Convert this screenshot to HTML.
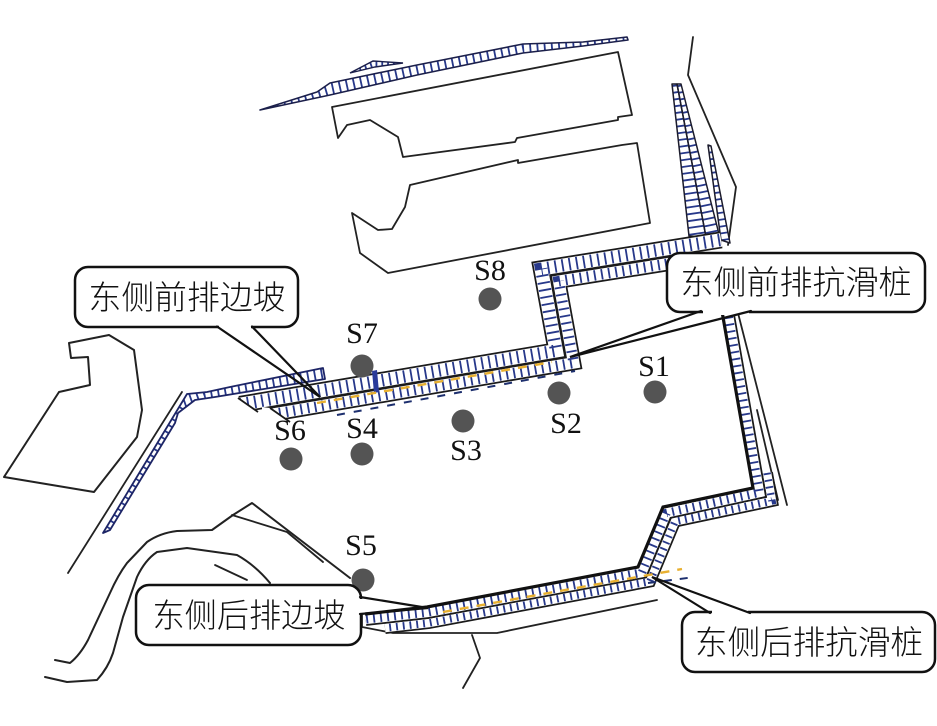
<!DOCTYPE html>
<html>
<head>
<meta charset="utf-8">
<style>
  html,body{margin:0;padding:0;background:#fff;}
  svg{display:block;}
  .cjk{font-family:"Liberation Sans","Noto Sans CJK SC","WenQuanYi Zen Hei",sans-serif;font-weight:300;}
  .lat{font-family:"Liberation Serif",serif;}
</style>
</head>
<body>
<svg width="937" height="726" viewBox="0 0 937 726" xmlns="http://www.w3.org/2000/svg">
  <defs>
    <clipPath id="cT"><polygon points="260,110 317,92 330,83 417,65 523,44 583,42 627,37 628,40 583,46 523,53 417,75 330,95 260,110"/></clipPath>
    <clipPath id="cTri"><polygon points="350,73 373,61 403,63 375,67"/></clipPath>
    <clipPath id="cSa"><polygon points="672,84 677,84 706,237 689,236"/></clipPath>
    <clipPath id="cSb"><polygon points="677,84 681,84 721,242 706,237"/></clipPath>
    <clipPath id="cSc"><polygon points="708,145 711,146 730,243 721,240"/></clipPath>
    <clipPath id="cA"><polygon points="103,533 187,394 207,392 230,387 323,368 325,379 215,397 195,400 178,413 175,423 110,530"/></clipPath>
  </defs>

  <rect x="0" y="0" width="937" height="726" fill="#fff"/>

  <!-- thin black outlines: buildings, terrain -->
  <g fill="none" stroke="#222" stroke-width="1.8" stroke-linejoin="round" stroke-linecap="round">
    <polygon points="332,107 618,52 632,115 618,117 618,120 517,138 515,142 403,157 398,137 370,120 347,125 338,138"/>
    <polygon points="410,185 518,160 518,163 622,145 637,143 650,223 388,273 360,253 352,213 378,230 392,229 405,207"/>
    <polygon points="69,343 109,335 134,350 142,410 137,437 94,492 4,477 59,392 90,385 88,357 71,358" stroke-width="2"/>
    <path d="M182,392 L68,573"/>
    <path d="M693,37 L688,75 L736,187 L728,245"/>
    <path d="M738,313 L787,505"/>
    <path d="M757,410 L778,500"/>
    <path d="M362,615 L362,627 L393,633 L497,633 L657,600"/>
    <path d="M472,635 L480,658 L463,688"/>
    <path d="M55,660 L70,663 Q80,655 88,640 L110,593 Q118,575 127,563 L147,542 Q160,533 177,531 L212,530 L233,515 L252,503 L350,578" stroke-width="2"/>
    <path d="M45,677 L67,682 L97,680 Q108,668 113,653 L123,617 L137,577 Q145,560 157,552 L187,548 L237,555 Q255,565 270,583" stroke-width="2"/>
    <path d="M232,515 L287,532 L323,562"/>
    <path d="M215,565 L247,580"/>
  </g>

  <!-- top tapered slope -->
  <polygon points="260,110 317,92 330,83 417,65 523,44 583,42 627,37 628,40 583,46 523,53 417,75 330,95 260,110" fill="#fff"/>
  <polyline points="256,111 330,89 417,70 523,49 583,44 632,39" fill="none" stroke="#27388a" stroke-width="24" stroke-dasharray="1.8 5.4" clip-path="url(#cT)"/>
  <polygon points="260,110 317,92 330,83 417,65 523,44 583,42 627,37 628,40 583,46 523,53 417,75 330,95 260,110" fill="none" stroke="#1b1f4a" stroke-width="1.6" stroke-linejoin="round"/>
  <polygon points="350,73 373,61 403,63 375,67" fill="#fff"/>
  <polyline points="348,72 375,63 405,63" fill="none" stroke="#27388a" stroke-width="14" stroke-dasharray="1.8 4" clip-path="url(#cTri)"/>
  <polygon points="350,73 373,61 403,63 375,67" fill="none" stroke="#1b1f4a" stroke-width="1.4"/>

  <!-- right narrow strips -->
  <g>
    <polygon points="672,84 677,84 706,237 689,236" fill="#fff"/>
    <polyline points="674,78 698,242" fill="none" stroke="#27388a" stroke-width="24" stroke-dasharray="1.8 5" clip-path="url(#cSa)"/>
    <polygon points="677,84 681,84 721,242 706,237" fill="#fff"/>
    <polyline points="679,78 714,247" fill="none" stroke="#27388a" stroke-width="24" stroke-dasharray="1.8 5" clip-path="url(#cSb)"/>
    <polygon points="708,145 711,146 730,243 721,240" fill="#fff"/>
    <polyline points="709,138 726,248" fill="none" stroke="#27388a" stroke-width="24" stroke-dasharray="1.8 5" clip-path="url(#cSc)"/>
    <g fill="none" stroke="#1c1c2c" stroke-width="1.5" stroke-linejoin="round">
      <polygon points="672,84 677,84 706,237 689,236"/>
      <polygon points="677,84 681,84 721,242 706,237"/>
      <polygon points="708,145 711,146 730,243 721,240"/>
    </g>
  </g>

  <!-- left diagonal + short upper band A -->
  <polygon points="103,533 187,394 207,392 230,387 323,368 325,379 215,397 195,400 178,413 175,423 110,530" fill="#fff"/>
  <polyline points="100,540 182,404 205,396 330,374" fill="none" stroke="#27388a" stroke-width="30" stroke-dasharray="1.8 5.2" clip-path="url(#cA)"/>
  <polygon points="103,533 187,394 207,392 230,387 323,368 325,379 215,397 195,400 178,413 175,423 110,530" fill="none" stroke="#1d2566" stroke-width="1.8" stroke-linejoin="round"/>

  <!-- front row bands (B outer, C inner) -->
  <g fill="none" stroke-linejoin="miter" stroke-miterlimit="6">
    <path d="M240,404.4 L556.2,350.7 L541.2,268.8 L721.1,239.9" stroke="#1a1a1a" stroke-width="17"/>
    <path d="M240,404.4 L556.2,350.7 L541.2,268.8 L721.1,239.9" stroke="#fff" stroke-width="13.5"/>
    <path d="M240,404.4 L556.2,350.7 L541.2,268.8 L721.1,239.9" stroke="#27388a" stroke-width="12.5" stroke-dasharray="1.8 5.4"/>

    <path d="M272,414.3 L573.7,362.9 L558.7,281.2 L700,258.6" stroke="#1a1a1a" stroke-width="15"/>
    <path d="M272,414.3 L573.7,362.9 L558.7,281.2 L700,258.6" stroke="#fff" stroke-width="11.5"/>
    <path d="M272,414.3 L573.7,362.9 L558.7,281.2 L700,258.6" stroke="#27388a" stroke-width="10.5" stroke-dasharray="1.8 5.4"/>
  </g>
  <!-- pointed tips of front bands -->
  <polygon points="228,396 238,398 258,413 258,424 228,424" fill="#fff"/>
  <path d="M238,398 L258,412" stroke="#1a1a1a" stroke-width="1.8" fill="none"/>
  <polygon points="262,407 270,408 290,423 290,430 262,430" fill="#fff"/>
  <path d="M270,408 L290,422" stroke="#1a1a1a" stroke-width="1.8" fill="none"/>

  <!-- back row bands -->
  <g fill="none" stroke-linejoin="miter" stroke-miterlimit="6">
    <path d="M767,473 L772,501 L675,521.5 L650,581.5 L429,623 L385,628" stroke="#1a1a1a" stroke-width="12"/>
    <path d="M767,473 L772,501 L675,521.5 L650,581.5 L429,623 L385,628" stroke="#fff" stroke-width="8.5"/>
    <path d="M767,473 L772,501 L675,521.5 L650,581.5 L429,623 L385,628" stroke="#27388a" stroke-width="7.5" stroke-dasharray="1.8 5"/>

    <path d="M726.3,303 L759.5,492.5 L666.5,513 L642,572.5 L427.6,612.4 L365.6,619.4" stroke="#1a1a1a" stroke-width="13"/>
    <path d="M726.3,303 L759.5,492.5 L666.5,513 L642,572.5 L427.6,612.4 L365.6,619.4" stroke="#fff" stroke-width="9.5"/>
    <path d="M726.3,303 L759.5,492.5 L666.5,513 L642,572.5 L427.6,612.4 L365.6,619.4" stroke="#27388a" stroke-width="8.5" stroke-dasharray="1.8 5.2"/>

    <path d="M720.7,304 L753,488 L663,507 L638,567 L427,607 L365,614" stroke="#111" stroke-width="3.2"/>
  </g>

  <!-- pile marker near S7 -->
  <polygon points="372,371 377,370 379,392 374,393" fill="#2a3b9a"/>

  <!-- dashed pile lines -->
  <g fill="none" stroke-linecap="butt">
    <path d="M317,403 L552,362" stroke="#e8b030" stroke-width="2.4" stroke-dasharray="9 8"/>
    <path d="M337,415 L575,371" stroke="#1d2f6e" stroke-width="2" stroke-dasharray="8 9"/>
    <path d="M443,612 L682,569" stroke="#e8b030" stroke-width="2.4" stroke-dasharray="9 8"/>
    <path d="M648,583 L695,577" stroke="#1d2f6e" stroke-width="2" stroke-dasharray="8 8"/>
  </g>

  <!-- monitoring points -->
  <g fill="#545454">
    <circle cx="655" cy="392" r="11.5"/>
    <circle cx="559" cy="393" r="11.5"/>
    <circle cx="463" cy="421" r="11.5"/>
    <circle cx="362" cy="454" r="11.5"/>
    <circle cx="363" cy="580" r="11.5"/>
    <circle cx="291" cy="459" r="11.5"/>
    <circle cx="362" cy="366" r="11.5"/>
    <circle cx="490" cy="299" r="11.5"/>
  </g>
  <g class="lat" font-size="30" fill="#111" text-anchor="middle">
    <text x="654" y="376">S1</text>
    <text x="566" y="433">S2</text>
    <text x="466" y="460">S3</text>
    <text x="362" y="438">S4</text>
    <text x="361" y="555">S5</text>
    <text x="290" y="440">S6</text>
    <text x="362" y="343">S7</text>
    <text x="490" y="280">S8</text>
  </g>

  <!-- callouts -->
  <g fill="#fff" stroke="#111" stroke-width="2.5">
    <rect x="75" y="267" width="223" height="60" rx="13"/>
    <rect x="667" y="253" width="258" height="59" rx="13"/>
    <rect x="136" y="585" width="225" height="60" rx="13"/>
    <rect x="682" y="612" width="253" height="60" rx="13"/>
  </g>
  <g fill="#fff">
    <rect x="219" y="324" width="32" height="6"/>
    <rect x="703" y="309" width="46" height="6"/>
    <rect x="358" y="599" width="6" height="14"/>
    <rect x="712" y="609" width="36" height="6"/>
  </g>
  <g fill="none" stroke="#111" stroke-width="2.2" stroke-linecap="round">
    <path d="M217,326.5 L320,397 L252,326.5"/>
    <path d="M701,311 L570,357 L751,311"/>
    <path d="M360,597 L428,608 L360,614"/>
    <path d="M710,613 L652,577 L750,613"/>
  </g>
  <g class="cjk" font-size="33" fill="#111" text-anchor="middle">
    <text x="187" y="309" textLength="197" lengthAdjust="spacingAndGlyphs">东侧前排边坡</text>
    <text x="796" y="294" textLength="231" lengthAdjust="spacingAndGlyphs">东侧前排抗滑桩</text>
    <text x="249" y="627" textLength="193" lengthAdjust="spacingAndGlyphs">东侧后排边坡</text>
    <text x="809" y="654" textLength="228" lengthAdjust="spacingAndGlyphs">东侧后排抗滑桩</text>
  </g>
</svg>
</body>
</html>
